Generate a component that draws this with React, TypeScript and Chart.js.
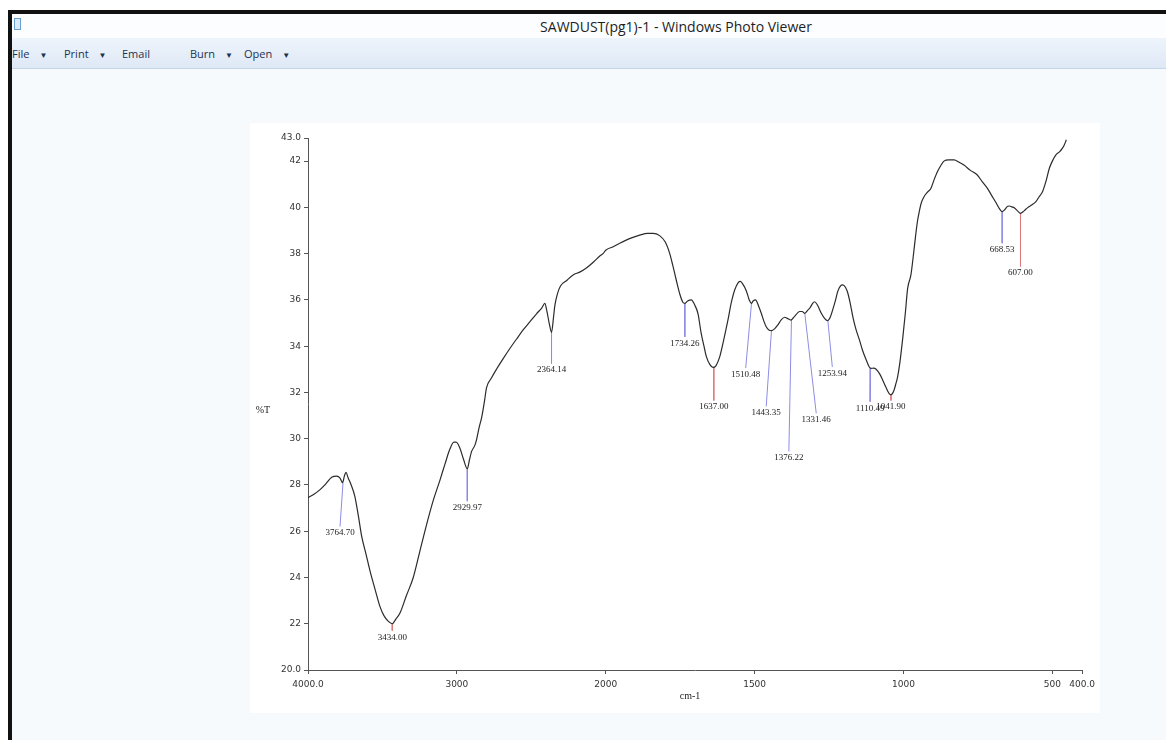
import React, { useEffect, useRef } from "react";
import { Chart, registerables } from "chart.js";

Chart.register(...registerables);

// ---- Spectrum data (wavenumber cm-1, %T) ----
const wavenumbers = [
  4000, 3960, 3919, 3880, 3841, 3807, 3785, 3768, 3755, 3745, 3730, 3710, 3685, 3660, 3640, 3610, 3584, 3550, 3517, 3490,
  3460, 3434, 3410, 3383, 3340, 3293, 3250, 3203, 3160, 3114, 3080, 3047, 3020, 3005, 2980, 2955, 2930, 2915, 2901, 2880,
  2868, 2850, 2834, 2815, 2801, 2770, 2734, 2690, 2644, 2600, 2555, 2510, 2465, 2430, 2409, 2395, 2380, 2364, 2350, 2342,
  2325, 2304, 2260, 2219, 2175, 2130, 2080, 2040, 2018, 2000, 1975, 1953, 1920, 1886, 1860, 1841, 1819, 1800, 1785, 1775,
  1763, 1750, 1741, 1734, 1725, 1713, 1700, 1690, 1680, 1670, 1662, 1650, 1640, 1630, 1617, 1605, 1590, 1578, 1567, 1555,
  1548, 1538, 1528, 1518, 1511, 1505, 1497, 1487, 1477, 1468, 1461, 1452, 1444, 1433, 1422, 1410, 1399, 1390, 1378, 1365,
  1349, 1340, 1332, 1322, 1315, 1305, 1299, 1290, 1276, 1265, 1255, 1246, 1238, 1228, 1221, 1212, 1204, 1195, 1187, 1178,
  1170, 1160, 1148, 1137, 1125, 1115, 1109, 1100, 1092, 1080, 1070, 1058, 1048, 1042, 1033, 1025, 1020, 1012, 1002, 994,
  986, 975, 967, 959, 953, 947, 940, 931, 920, 908, 897, 886, 875, 864, 848, 830, 813, 797, 775, 752,
  735, 718, 703, 689, 678, 669, 660, 650, 644, 636, 628, 617, 607, 595, 583, 570, 555, 545, 533, 522,
  510, 500, 488, 476, 466, 460, 453,
];
const transmittance = [
  27.45, 27.6, 27.8, 28.05, 28.33, 28.38, 28.3, 28.1, 28.4, 28.55, 28.3, 28.0, 27.5, 26.6, 25.8, 25.0, 24.3, 23.5, 22.75, 22.35,
  22.1, 22.0, 22.2, 22.45, 23.2, 24.0, 25.1, 26.3, 27.3, 28.2, 28.9, 29.55, 29.85, 29.85, 29.6, 29.1, 28.7, 29.1, 29.45, 29.7,
  29.95, 30.5, 30.9, 31.6, 32.2, 32.6, 33.0, 33.45, 33.9, 34.3, 34.7, 35.05, 35.4, 35.65, 35.85, 35.5, 35.0, 34.6, 35.3, 35.75,
  36.25, 36.6, 36.85, 37.08, 37.2, 37.38, 37.65, 37.9, 38.0, 38.15, 38.3, 38.45, 38.65, 38.8, 38.88, 38.88, 38.78, 38.5, 38.0, 37.5,
  36.85, 36.2, 35.9, 35.85, 35.95, 36.0, 35.75, 35.4, 34.6, 34.0, 33.55, 33.2, 33.08, 33.15, 33.55, 34.2, 35.1, 35.9, 36.43, 36.75,
  36.8, 36.65, 36.4, 36.0, 35.85, 35.95, 36.0, 35.75, 35.4, 35.05, 34.84, 34.7, 34.67, 34.75, 34.92, 35.15, 35.25, 35.2, 35.13, 35.3,
  35.5, 35.5, 35.42, 35.55, 35.64, 35.85, 35.92, 35.8, 35.42, 35.2, 35.1, 35.25, 35.56, 36.0, 36.36, 36.6, 36.65, 36.55, 36.3, 35.8,
  35.27, 34.75, 34.27, 33.8, 33.4, 33.1, 33.04, 33.05, 33.0, 32.8, 32.54, 32.2, 31.95, 31.9, 32.05, 32.4, 32.65, 33.3, 34.4, 35.4,
  36.5, 37.08, 37.9, 38.8, 39.4, 39.82, 40.2, 40.46, 40.65, 40.82, 41.2, 41.54, 41.8, 42.0, 42.05, 42.05, 41.95, 41.83, 41.6, 41.4,
  41.1, 40.82, 40.5, 40.2, 39.95, 39.82, 39.9, 40.05, 40.06, 40.02, 39.98, 39.85, 39.74, 39.85, 39.99, 40.1, 40.25, 40.45, 40.68, 41.1,
  41.69, 42.0, 42.27, 42.4, 42.56, 42.7, 42.92,
];

// ---- Peak annotations ----
const peakLabels = ["3764.70", "3434.00", "2929.97", "2364.14", "1734.26", "1637.00", "1510.48", "1443.35", "1376.22", "1331.46", "1253.94", "1110.49", "1041.90", "668.53", "607.00"];
const peakWavenumbers = [3764.7, 3434.0, 2929.97, 2364.14, 1734.26, 1637.0, 1510.48, 1443.35, 1376.22, 1331.46, 1253.94, 1110.49, 1041.9, 668.53, 607.0];
const peakTransmittance = [28.1, 22.0, 28.7, 34.6, 35.85, 33.08, 35.85, 34.67, 35.13, 35.42, 35.1, 33.04, 31.9, 39.82, 39.74];
const labelWavenumbers = [3785, 3434, 2930, 2364.14, 1734.26, 1637, 1530, 1461, 1385, 1293, 1239, 1112, 1041.9, 668.53, 607];
const labelTransmittance = [26.2, 21.7, 27.3, 33.25, 34.4, 31.65, 33.05, 31.4, 29.45, 31.1, 33.1, 31.6, 31.65, 38.45, 37.45];
const strongPeaks = ["3434.00", "1637.00", "1041.90", "607.00"];

// ---- Axis ticks ----
const xTickWavenumbers = [4000, 3000, 2000, 1500, 1000, 500, 400];
const xTickLabels = ["4000.0", "3000", "2000", "1500", "1000", "500", "400.0"];
const yTickValues = [20, 22, 24, 26, 28, 30, 32, 34, 36, 38, 40, 42, 43];
const yTickLabels = ["20.0", "22", "24", "26", "28", "30", "32", "34", "36", "38", "40", "42", "43.0"];

// Spectrometer axis: scale doubles below 2000 cm-1
const toAxis = (wn: number) => (wn >= 2000 ? (4000 - wn) / 2 : 1000 + (2000 - wn));

const menuItems: [string, boolean, number][] = [
  ["File", true, 12],
  ["Print", true, 64],
  ["Email", false, 122],
  ["Burn", true, 190],
  ["Open", true, 244],
];

function SpectrumChart() {
  const ref = useRef<HTMLCanvasElement | null>(null);
  useEffect(() => {
    if (!ref.current) return;
    const spectrum = wavenumbers.map((w, i) => ({ x: toAxis(w), y: transmittance[i] }));
    const peakSets = peakLabels.map((lab, i) => ({
      label: lab,
      data: [
        { x: toAxis(peakWavenumbers[i]), y: peakTransmittance[i] },
        { x: toAxis(labelWavenumbers[i]), y: labelTransmittance[i] },
      ],
      borderColor: strongPeaks.includes(lab) ? "#e07a7a" : "#8c8ce6",
      borderWidth: 1,
      pointRadius: 0,
      tension: 0,
    }));

    const textPlugin = {
      id: "peakText",
      afterDatasetsDraw(chart: any) {
        const { ctx, chartArea, scales } = chart;
        ctx.save();
        ctx.fillStyle = "#222";
        ctx.font = "9px 'Liberation Serif', serif";
        ctx.textAlign = "center";
        ctx.textBaseline = "top";
        peakLabels.forEach((lab, i) => {
          const px = scales.x.getPixelForValue(toAxis(labelWavenumbers[i]));
          const py = scales.y.getPixelForValue(labelTransmittance[i]);
          ctx.fillText(lab, px, py + 2);
        });
        ctx.font = "10px 'Liberation Serif', serif";
        ctx.textBaseline = "middle";
        ctx.fillText("%T", chartArea.left - 45, (chartArea.top + chartArea.bottom) / 2 + 6);
        ctx.fillText("cm-1", (chartArea.left + chartArea.right) / 2 - 5, chartArea.bottom + 26);
        ctx.restore();
      },
    };

    const chart = new Chart(ref.current, {
      type: "line",
      data: {
        datasets: [
          {
            label: "Sawdust",
            data: spectrum,
            borderColor: "#2b2b2b",
            borderWidth: 1.2,
            pointRadius: 0,
            tension: 0.4,
            cubicInterpolationMode: "monotone",
          },
          ...peakSets,
        ] as any,
      },
      options: {
        animation: false,
        responsive: false,
        parsing: false,
        layout: { padding: { left: 0, right: 17, top: 15, bottom: 0 } },
        plugins: { legend: { display: false }, tooltip: { enabled: false } },
        scales: {
          x: {
            type: "linear",
            min: 0,
            max: 2600,
            afterBuildTicks: (scale: any) => {
              scale.ticks = xTickWavenumbers.map((w) => ({ value: toAxis(w) }));
            },
            afterFit: (scale: any) => {
              scale.height = 43;
            },
            ticks: {
              autoSkip: false,
              maxRotation: 0,
              padding: 5,
              color: "#333",
              font: { family: "'DejaVu Sans', sans-serif", size: 9 },
              callback: (_v: any, i: number) => xTickLabels[i],
            },
            grid: { drawOnChartArea: false, drawTicks: true, tickLength: 4, color: "#555" },
            border: { display: true, color: "#555" },
          },
          y: {
            type: "linear",
            min: 20,
            max: 43,
            afterBuildTicks: (scale: any) => {
              scale.ticks = yTickValues.map((v) => ({ value: v }));
            },
            afterFit: (scale: any) => {
              scale.width = 58;
            },
            ticks: {
              autoSkip: false,
              padding: 3,
              color: "#333",
              font: { family: "'DejaVu Sans', sans-serif", size: 9 },
              callback: (_v: any, i: number) => yTickLabels[i],
            },
            grid: { drawOnChartArea: false, drawTicks: true, tickLength: 4, color: "#555" },
            border: { display: true, color: "#555" },
          },
        },
      } as any,
      plugins: [textPlugin],
    });
    return () => chart.destroy();
  }, []);
  return <canvas ref={ref} width={850} height={590} style={{ width: 850, height: 590, display: "block" }} />;
}

export default function App() {
  return (
    <div style={{ position: "fixed", left: 0, top: 0, width: 1166, height: 740, background: "#fff", overflow: "hidden", fontFamily: "'Open Sans', 'Noto Sans', sans-serif" }}>
      {/* content area */}
      <div style={{ position: "absolute", left: 12, top: 69, width: 1154, height: 671, background: "#f7fafc" }} />
      {/* title bar */}
      <div style={{ position: "absolute", left: 12, top: 14, width: 1154, height: 24, background: "#fbfdfe" }} />
      <div style={{ position: "absolute", left: 14, top: 18, width: 5, height: 10, border: "1px solid #6a9fd0", background: "#d8ebfa" }} />
      <div style={{ position: "absolute", left: 0, top: 17, width: 1352, textAlign: "center", fontSize: 14, color: "#1e1e1e", lineHeight: "20px" }}>
        SAWDUST(pg1)-1 - Windows Photo Viewer
      </div>
      {/* menu bar */}
      <div style={{ position: "absolute", left: 12, top: 38, width: 1154, height: 30, background: "linear-gradient(#eef4fb, #dee9f6)", borderBottom: "1px solid #c6d6e9" }} />
      {menuItems.map(([name, arrow, x]) => (
        <div key={name} style={{ position: "absolute", left: x, top: 46, fontSize: 11, color: "#1e3250", lineHeight: "16px", whiteSpace: "pre" }}>
          {name}
          {arrow ? <span style={{ fontSize: 8, marginLeft: 10 }}>▼</span> : null}
        </div>
      ))}
      {/* black window frame */}
      <div style={{ position: "absolute", left: 8, top: 10, width: 1158, height: 4, background: "#111" }} />
      <div style={{ position: "absolute", left: 8, top: 10, width: 4, height: 730, background: "#111" }} />
      {/* photo (white) with the chart */}
      <div style={{ position: "absolute", left: 250, top: 123, width: 850, height: 590, background: "#fff" }}>
        <SpectrumChart />
      </div>
    </div>
  );
}
